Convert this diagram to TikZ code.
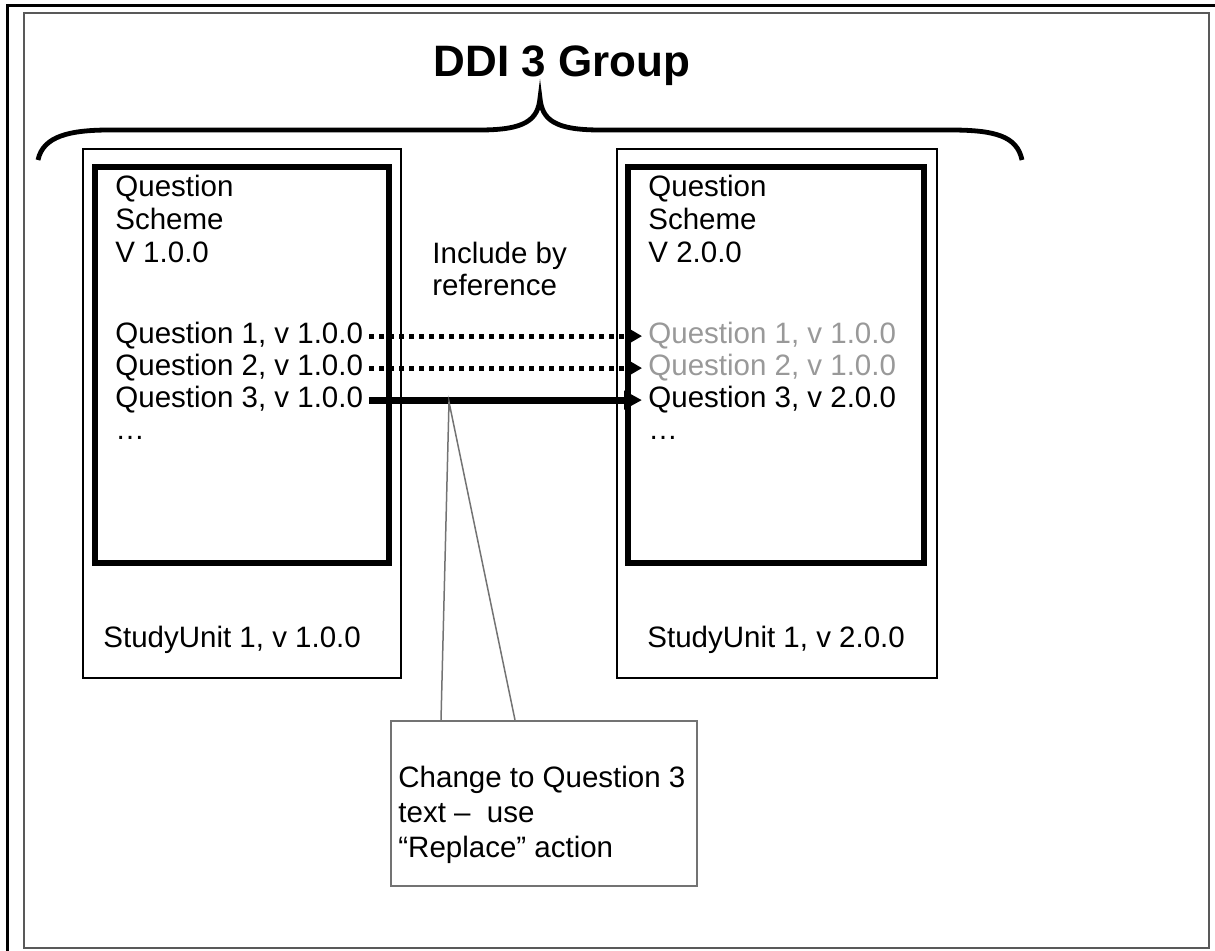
\documentclass[tikz,border=0pt]{standalone}
\usepackage{fontspec}
\setmainfont{Liberation Sans}
\usetikzlibrary{arrows.meta,positioning}

\begin{document}
\begin{tikzpicture}[x=0.5pt,y=-0.5pt,
    qtext/.style={anchor=base west,inner xsep=3pt,inner ysep=0pt,font=\fontsize{14.75}{17}\selectfont},
    faded/.style={qtext,text=black!40},
    refarrow/.style={-{Triangle[length=6pt,width=6.5pt]},line width=2.5pt,dash pattern=on 2.5pt off 2.5pt},
    newarrow/.style={-{Triangle[length=9pt,width=9pt]},line width=3.5pt},
    unitbox/.style={draw,line width=1.25pt},
    schemebox/.style={draw,line width=2.6pt}]

\useasboundingbox (0,0) rectangle (1215,951);

%frame
\draw[line width=1.5pt] (7,951) -- (7,6) -- (1215,6);
\draw[line width=1pt,draw=black!65] (24,13) rectangle (1209,948);

%group brace
\node[font=\fontsize{22}{26}\selectfont\bfseries] (group) at (562,66) {DDI 3 Group};
\draw[line width=2.4pt] (38,160) .. controls (43,136) and (70,130) .. (110,130) -- (480,130)
    .. controls (525,130) and (538,120) .. (540,98) .. controls (542,120) and (555,130) .. (600,130)
    -- (950,130) .. controls (995,130) and (1017,136) .. (1022,160);

%study units and schemes
\draw[unitbox] (83,149) rectangle (401,678);
\draw[unitbox] (617,149) rectangle (937,678);
\draw[schemebox] (95,167) rectangle (389,563);
\draw[schemebox] (628,167) rectangle (924,563);

%old scheme
\node[qtext] (s1a) at (109,197) {Question};
\node[qtext] (s1b) at (109,230) {Scheme};
\node[qtext] (s1c) at (109,263) {V 1.0.0};
\node[qtext] (q1l) at (109,344) {Question 1, v 1.0.0};
\node[qtext] (q2l) at (109,376) {Question 2, v 1.0.0};
\node[qtext] (q3l) at (109,408) {Question 3, v 1.0.0};
\node[qtext] (dotsl) at (109,440) {…};
\node[qtext] (unit1) at (97,647) {StudyUnit 1, v 1.0.0};

%new scheme
\node[qtext] (s2a) at (642,197) {Question};
\node[qtext] (s2b) at (642,230) {Scheme};
\node[qtext] (s2c) at (642,263) {V 2.0.0};
\node[faded] (q1r) at (642,344) {Question 1, v 1.0.0};
\node[faded] (q2r) at (642,376) {Question 2, v 1.0.0};
\node[qtext] (q3r) at (642,408) {Question 3, v 2.0.0};
\node[qtext] (dotsr) at (642,440) {…};
\node[qtext] (unit2) at (641,647) {StudyUnit 1, v 2.0.0};

\node[qtext] (incl) at (426,264) {Include by};
\node[qtext] (incl2) at (426,296) {reference};

%references
\draw[refarrow] (q1l.east) -- (q1l.east -| q1r.west);
\draw[refarrow] (q2l.east) -- (q2l.east -| q2r.west);
\draw[newarrow] (q3l.east) -- (q3l.east -| q3r.west);

%callout
\node[draw=black!55,line width=0.75pt,minimum width=153pt,minimum height=82.5pt,anchor=north west,inner sep=0pt] (note) at (390,720) {};
\node[qtext,align=left,anchor=west,font=\fontsize{14.75}{17.5}\selectfont] (notetext) at (392,815) {Change to Question 3\\text –\ \ use\\“Replace” action};
\coordinate (tip) at (449,402);
\coordinate (wl) at (441,720);
\coordinate (wr) at (515,720);
\draw[black!55,line width=0.75pt] (wl) -- (tip) -- (wr);

\end{tikzpicture}
\end{document}
